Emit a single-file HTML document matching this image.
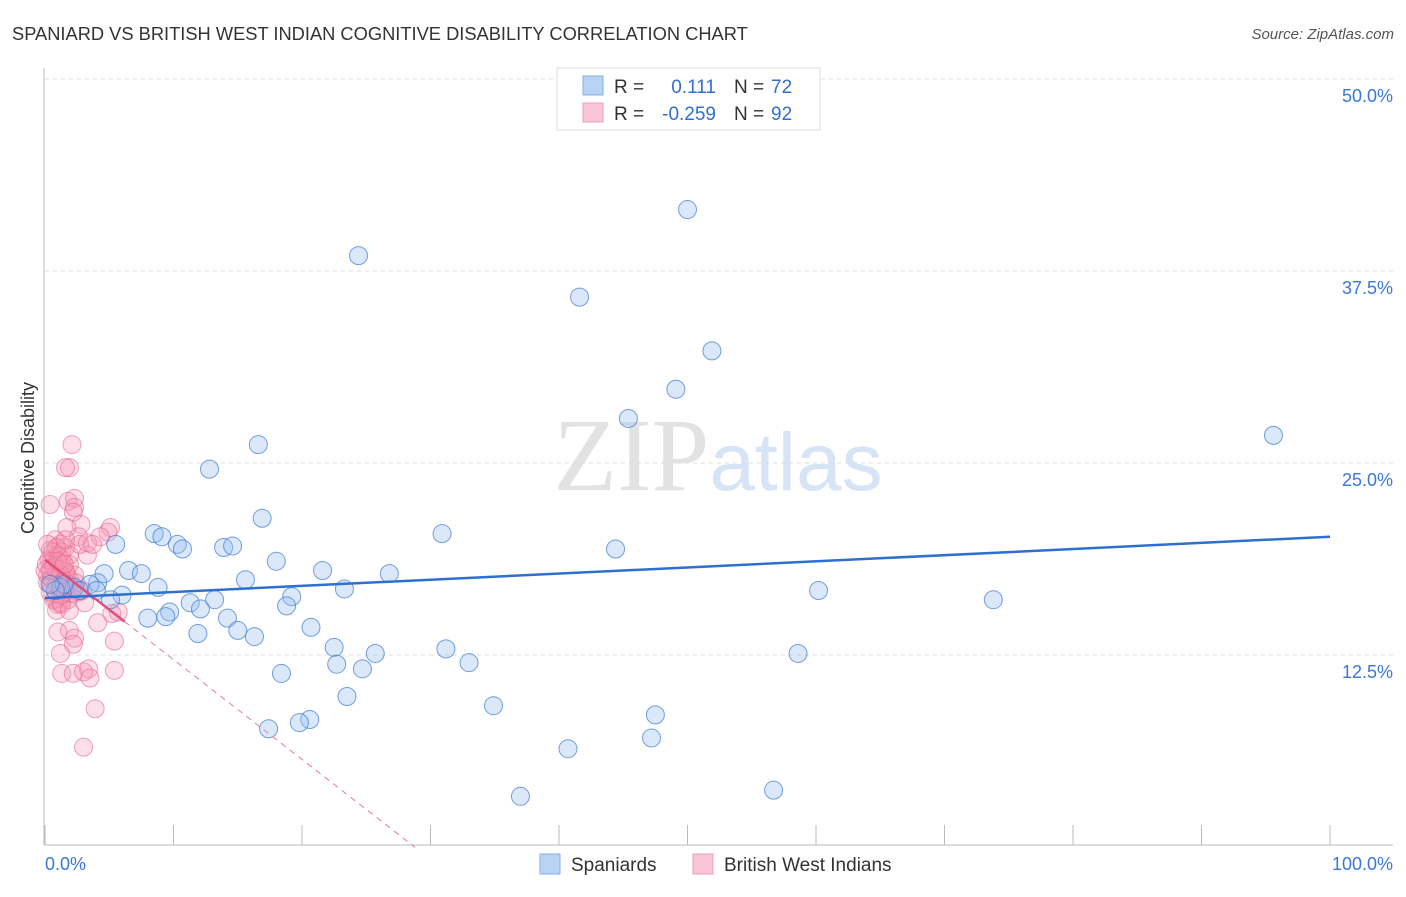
<!DOCTYPE html>
<html><head><meta charset="utf-8"><style>
body{margin:0;background:#fff;font-family:"Liberation Sans",sans-serif;}
svg text{font-family:"Liberation Sans",sans-serif;}
</style></head><body>
<svg id="chart" width="1406" height="892" xmlns="http://www.w3.org/2000/svg">
<text x="12" y="40" font-size="18.3" fill="#333">SPANIARD VS BRITISH WEST INDIAN COGNITIVE DISABILITY CORRELATION CHART</text>
<text x="1394" y="39" font-size="15" fill="#555" font-style="italic" text-anchor="end">Source: ZipAtlas.com</text>
<text x="718" y="490" font-size="104" text-anchor="middle"><tspan fill="#e2e2e2" font-family="Liberation Serif">ZIP</tspan><tspan fill="#d6e4f5" font-size="82">atlas</tspan></text>
<text transform="translate(34,458) rotate(-90)" font-size="18" fill="#333" text-anchor="middle">Cognitive Disability</text>
<g id="grid"></g>
<g id="pts"></g>
<g id="trends"></g>
<g>
<rect x="557" y="68" width="263" height="62" fill="#fff" stroke="#ddd"/>
<rect x="583" y="76" width="20" height="19" fill="#b9d3f5" stroke="#86aee6"/>
<rect x="583" y="103" width="20" height="19" fill="#fac6d6" stroke="#ef9fb8"/>
<text x="614" y="93" font-size="19" fill="#333">R =</text>
<text x="716" y="93" font-size="19" fill="#2f6fd0" text-anchor="end">0.111</text>
<text x="734" y="93" font-size="19" fill="#333">N =</text>
<text x="771" y="93" font-size="19" fill="#2f6fd0">72</text>
<text x="614" y="120" font-size="19" fill="#333">R =</text>
<text x="716" y="120" font-size="19" fill="#2f6fd0" text-anchor="end">-0.259</text>
<text x="734" y="120" font-size="19" fill="#333">N =</text>
<text x="771" y="120" font-size="19" fill="#2f6fd0">92</text>
</g>
<g>
<rect x="540" y="854" width="20" height="20" fill="#b9d3f5" stroke="#86aee6"/>
<text x="571" y="871" font-size="19" fill="#333">Spaniards</text>
<rect x="693" y="854" width="20" height="20" fill="#fac6d6" stroke="#ef9fb8"/>
<text x="724" y="871" font-size="19" fill="#333">British West Indians</text>
</g>
</svg>
<script>
const yTicks=[12.5,25,37.5,50];
const yTickLabels=["12.5%","25.0%","37.5%","50.0%"];
const xTickLabels=["0.0%","100.0%"];
const blueX=[50.0,24.4,41.6,51.9,49.1,45.4,95.6,16.6,12.8,16.9,30.9,8.5,9.1,5.5,10.3,10.7,13.9,14.6,44.4,18.0,6.5,7.5,4.6,15.6,21.6,26.8,4.1,3.5,8.8,23.3,60.2,2.3,1.2,6.0,19.2,73.8,11.3,13.2,18.8,5.1,9.7,8.0,9.4,12.1,14.2,15.0,16.3,11.9,20.7,22.5,31.2,25.7,33.0,58.6,22.7,24.7,18.4,23.5,34.9,47.5,20.6,19.8,17.4,47.2,40.7,37.0,56.7,2.7,4.0,1.5,0.8,0.4];
const blueY=[41.5,38.5,35.8,32.3,29.8,27.9,26.8,26.2,24.6,21.4,20.4,20.4,20.2,19.7,19.7,19.4,19.5,19.6,19.4,18.6,18.0,17.8,17.8,17.4,18.0,17.8,17.2,17.1,16.9,16.8,16.7,16.9,16.9,16.4,16.3,16.1,15.9,16.1,15.7,16.1,15.3,14.9,15.0,15.5,14.9,14.1,13.7,13.9,14.3,13.0,12.9,12.6,12.0,12.6,11.9,11.6,11.3,9.8,9.2,8.6,8.3,8.1,7.7,7.1,6.4,3.3,3.7,16.7,16.7,17.1,16.7,17.1];
const pinkX=[2.1,1.9,1.6,0.4,1.8,2.3,2.3,2.2,2.8,5.1,4.9,4.3,2.6,1.7,0.8,1.2,0.4,1.0,1.6,3.3,0.5,0.9,1.4,1.9,0.2,1.0,1.6,0.5,1.3,1.9,0.8,1.2,1.8,3.1,1.0,2.1,0.0,0.3,0.6,1.3,1.7,2.3,0.4,0.9,1.5,2.6,2.9,5.7,5.2,4.1,1.9,1.0,2.3,2.2,5.4,1.2,1.3,2.2,3.0,3.4,3.5,5.4,3.9,3.0,0.2,0.5,1.2,1.6,0.1,0.7,1.3,1.9,0.9,1.6,0.2,0.7,1.2,1.6,2.1,0.4,1.0,1.5,1.8,2.4,0.9,1.3,1.9,2.7,3.3,3.7];
const pinkY=[26.2,24.7,24.7,22.3,22.5,22.7,22.1,21.8,21.0,20.8,20.5,20.2,20.2,20.8,20.0,19.7,19.3,19.0,19.5,19.0,18.6,18.0,18.2,18.4,17.7,17.5,17.4,17.1,16.7,17.4,16.2,15.9,16.1,15.9,15.8,16.5,18.0,18.7,19.2,18.7,17.7,17.7,16.6,17.1,17.1,16.6,16.7,15.3,15.2,14.6,14.1,14.0,13.6,13.2,13.4,12.6,11.3,11.3,11.4,11.6,11.0,11.5,9.0,6.5,17.2,17.5,17.7,17.9,18.4,18.2,19.2,19.0,19.5,20.0,19.7,16.1,16.4,16.6,16.9,18.0,18.6,18.4,17.1,17.2,15.4,15.8,15.4,19.7,19.8,19.7];
const blueTrend=[16.2,20.2];
const pinkTrend=[18.7,-0.65];
const pinkSolidEnd=6.2, pinkDashEnd=28.8;
const X=v=>45+v*12.85, Y=v=>847-v*15.36;
const NS="http://www.w3.org/2000/svg";
function mk(tag,attrs,parent){const e=document.createElementNS(NS,tag);for(const k in attrs)e.setAttribute(k,attrs[k]);parent.appendChild(e);return e;}
const grid=document.getElementById('grid');
yTicks.forEach((t,i)=>{
 const l=mk('line',{x1:45,x2:1393,y1:Y(t),y2:Y(t),stroke:'#ddd','stroke-dasharray':'4,4'},grid);
 
 
 const tx=mk('text',{x:1393,y:Y(t)+23,'font-size':18,fill:'#3b78d4','text-anchor':'end'},grid);
 tx.textContent=yTickLabels[i];
 
 
});
const ax=mk('line',{x1:44,x2:44,y1:68,y2:845,stroke:'#bbb'},grid);


const bx=mk('line',{x1:44,x2:1393,y1:845,y2:845,stroke:'#bbb'},grid);


for(let i=0;i<=10;i++){const t=mk('line',{x1:X(i*10),x2:X(i*10),y1:825,y2:845,stroke:'#bbb'},grid);
 
 }
const xl0=mk('text',{x:45,y:870,'font-size':18,fill:'#3b78d4'},grid);xl0.textContent=xTickLabels[0];


const xl1=mk('text',{x:1393,y:870,'font-size':18,fill:'#3b78d4','text-anchor':'end'},grid);xl1.textContent=xTickLabels[1];


const pts=document.getElementById('pts');
pinkX.forEach((v,i)=>{const c=mk('circle',{cx:X(v),cy:Y(pinkY[i]),r:9,fill:'rgba(245,150,180,0.3)',stroke:'rgba(232,100,140,0.6)','stroke-width':1},pts);
 
 });
blueX.forEach((v,i)=>{const c=mk('circle',{cx:X(v),cy:Y(blueY[i]),r:9,fill:'rgba(150,190,240,0.35)',stroke:'rgba(60,120,210,0.7)','stroke-width':1},pts);
 
 });
const tr=document.getElementById('trends');
const pl=x=>pinkTrend[0]+pinkTrend[1]*x;
const pd=mk('line',{x1:X(pinkSolidEnd),y1:Y(pl(pinkSolidEnd)),x2:X(pinkDashEnd),y2:Y(pl(pinkDashEnd)),stroke:'#e87a9c','stroke-width':1,'stroke-dasharray':'6,5'},tr);


const ps=mk('line',{x1:X(0),y1:Y(pl(0)),x2:X(pinkSolidEnd),y2:Y(pl(pinkSolidEnd)),stroke:'#d9517c','stroke-width':2.5},tr);


const bt=mk('line',{x1:X(0),y1:Y(blueTrend[0]),x2:X(100),y2:Y(blueTrend[1]),stroke:'#2f6fd0','stroke-width':2.5},tr);


</script>
</body></html>
